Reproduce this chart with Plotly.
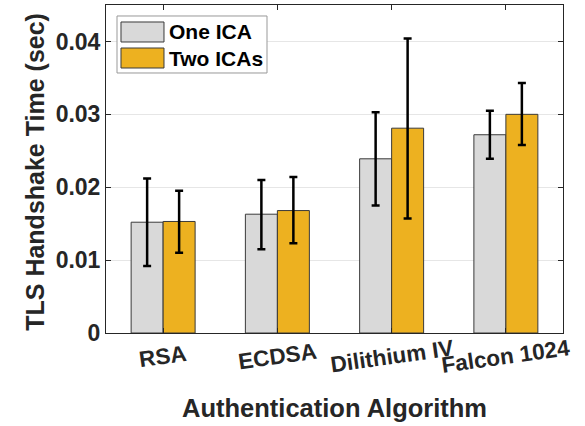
import plotly.graph_objects as go

categories = ["RSA", "ECDSA", "Dilithium IV", "Falcon 1024"]
series_names = ["One ICA", "Two ICAs"]
one_ica = [0.0152, 0.0163, 0.0239, 0.0272]
one_ica_hi = [0.0212, 0.0210, 0.0303, 0.0305]
one_ica_lo = [0.0092, 0.0115, 0.0175, 0.0239]
two_icas = [0.0153, 0.0168, 0.0281, 0.0300]
two_icas_hi = [0.0195, 0.0214, 0.0404, 0.0343]
two_icas_lo = [0.0110, 0.0123, 0.0157, 0.0258]
y_ticks = [0, 0.01, 0.02, 0.03, 0.04]
y_tick_labels = ["0", "0.01", "0.02", "0.03", "0.04"]
x_title = "Authentication Algorithm"
y_title = "TLS Handshake Time (sec)"

colors = ["#D9D9D9", "#EDB120"]
FONT = "Liberation Sans, Arial, Helvetica, sans-serif"
TXT = "#262626"

fig = go.Figure()
for name, vals, hi, lo, col in [
    (series_names[0], one_ica, one_ica_hi, one_ica_lo, colors[0]),
    (series_names[1], two_icas, two_icas_hi, two_icas_lo, colors[1]),
]:
    fig.add_trace(go.Bar(
        x=categories, y=vals, name=name,
        marker=dict(color=col, line=dict(color="#3a3a3a", width=1)),
        error_y=dict(type="data", symmetric=False,
                     array=[h - v for h, v in zip(hi, vals)],
                     arrayminus=[v - l for v, l in zip(vals, lo)],
                     color="black", thickness=2.5, width=4),
        showlegend=False,
    ))

annotations = []
# tick labels (rotated, centered)
for c in categories:
    annotations.append(dict(
        x=c, xref="x", y=0, yref="paper", yshift=-23, yanchor="middle",
        xanchor="center", text="<b>%s</b>" % c, showarrow=False,
        textangle=-8, font=dict(family=FONT, size=22.5, color=TXT)))

# axis titles
annotations.append(dict(x=0.5, xref="paper", y=0, yref="paper", yshift=-75,
                        xanchor="center", yanchor="middle", showarrow=False,
                        text="<b>%s</b>" % x_title,
                        font=dict(family=FONT, size=25.5, color=TXT)))
annotations.append(dict(x=0, xref="paper", y=0.49, yref="paper", xshift=-70.5,
                        xanchor="center", yanchor="middle", showarrow=False,
                        textangle=-90, text="<b>%s</b>" % y_title,
                        font=dict(family=FONT, size=25, color=TXT)))

# custom legend
shapes = [dict(type="rect", xref="paper", yref="paper", x0=0.0241, x1=0.3523,
               y0=0.7927, y1=0.9665, fillcolor="white",
               line=dict(color="#999999", width=1), layer="above")]
swatch_y = [(0.8872, 0.9482), (0.8079, 0.8689)]
text_y = [0.9177, 0.8384]
for i in range(2):
    shapes.append(dict(type="rect", xref="paper", yref="paper", x0=0.0328, x1=0.1269,
                       y0=swatch_y[i][0], y1=swatch_y[i][1], fillcolor=colors[i],
                       line=dict(color="#3a3a3a", width=1), layer="above"))
    annotations.append(dict(x=0.1335, y=text_y[i], xref="paper", yref="paper",
                            xanchor="left", yanchor="middle", showarrow=False,
                            text="<b>%s</b>" % series_names[i],
                            font=dict(family=FONT, size=21, color="black")))

fig.update_layout(
    width=585, height=426,
    margin=dict(l=106, r=22, t=5, b=93, autoexpand=False),
    paper_bgcolor="white", plot_bgcolor="white",
    barmode="group", bargap=0.44, bargroupgap=0,
    font=dict(family=FONT, color=TXT),
    shapes=shapes, annotations=annotations,
    xaxis=dict(range=[-0.5, 3.5], showticklabels=False, automargin=False,
               ticks="inside", ticklen=5, tickcolor=TXT, mirror="ticks",
               showline=True, linecolor=TXT, linewidth=1),
    yaxis=dict(range=[0, 0.045], tickvals=y_ticks, automargin=False,
               ticktext=["<b>%s</b>" % t for t in y_tick_labels],
               tickfont=dict(size=23, family=FONT, color=TXT),
               ticks="inside", ticklen=5, tickcolor=TXT, mirror="ticks",
               showline=True, linecolor=TXT, linewidth=1,
               showgrid=True, gridcolor="#E6E6E6", gridwidth=1, zeroline=False),
)

fig.write_html("out.html", config={"displayModeBar": False},
               post_script="document.body.style.margin='0';document.body.style.padding='0';")
